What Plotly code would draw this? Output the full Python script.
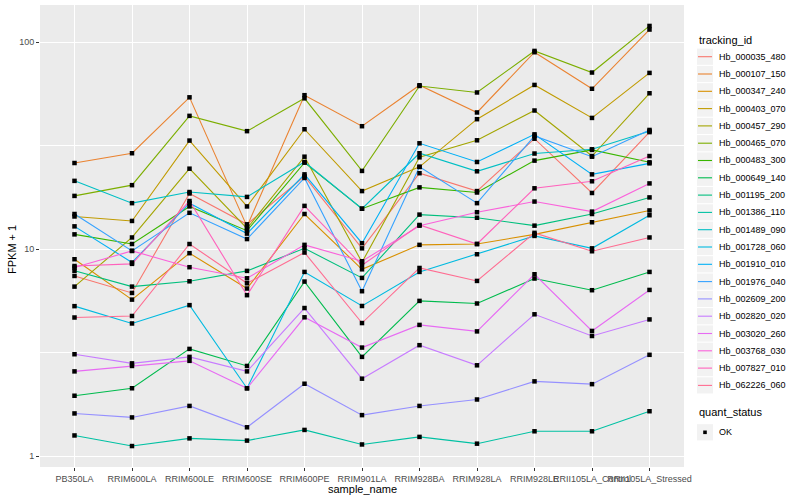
import plotly.graph_objects as go

samples = ["PB350LA", "RRIM600LA", "RRIM600LE", "RRIM600SE", "RRIM600PE", "RRIM901LA",
           "RRIM928BA", "RRIM928LA", "RRIM928LE", "RRII105LA_Control", "RRII105LA_Stressed"]

tracking_ids = ["Hb_000035_480", "Hb_000107_150", "Hb_000347_240", "Hb_000403_070",
                "Hb_000457_290", "Hb_000465_070", "Hb_000483_300", "Hb_000649_140",
                "Hb_001195_200", "Hb_001386_110", "Hb_001489_090", "Hb_001728_060",
                "Hb_001910_010", "Hb_001976_040", "Hb_002609_200", "Hb_002820_020",
                "Hb_003020_260", "Hb_003768_030", "Hb_007827_010", "Hb_062226_060"]

colors = ["#F8766D", "#EA8331", "#D89000", "#C09B00", "#A3A500", "#7CAE00", "#39B600",
          "#00BB4E", "#00BF7D", "#00C1A3", "#00BFC4", "#00BAE0", "#00B0F6", "#35A2FF",
          "#9590FF", "#C77CFF", "#E76BF3", "#FA62DB", "#FF62BC", "#FF6C91"]

# FPKM + 1 values, one list per tracking_id, in sample order
hb_000035_480 = [7.43, 6.15, 18.6, 13.2, 22.5, 10.1, 23.3, 19.1, 34.2, 18.7, 36.8]
hb_000107_150 = [26.1, 29.1, 54.2, 12.9, 55.5, 39.3, 62.0, 45.8, 89.5, 59.6, 115.2]
hb_000347_240 = [8.95, 5.71, 9.57, 6.46, 14.8, 8.0, 10.5, 10.6, 11.8, 13.5, 15.4]
hb_000403_070 = [14.4, 13.7, 33.5, 16.1, 38.0, 19.1, 25.0, 42.5, 62.2, 43.1, 71.1]
hb_000457_290 = [6.6, 11.4, 24.5, 12.6, 28.0, 8.65, 27.8, 33.6, 46.8, 28.2, 56.7]
hb_000465_070 = [18.1, 20.4, 44.1, 37.2, 53.6, 23.9, 61.5, 57.2, 90.8, 71.4, 119.9]
hb_000483_300 = [11.8, 10.6, 16.1, 12.3, 26.2, 15.7, 19.9, 18.8, 26.8, 30.2, 26.3]
hb_000649_140 = [1.96, 2.13, 3.30, 2.73, 6.98, 3.02, 5.63, 5.47, 7.22, 6.34, 7.77]
hb_001195_200 = [7.87, 6.6, 7.0, 7.86, 10.1, 7.27, 14.7, 14.2, 13.0, 14.8, 17.8]
hb_001386_110 = [1.26, 1.12, 1.22, 1.19, 1.34, 1.14, 1.24, 1.15, 1.32, 1.32, 1.65]
hb_001489_090 = [21.4, 16.7, 18.9, 17.9, 26.4, 15.7, 29.1, 23.8, 29.0, 30.4, 37.2]
hb_001728_060 = [5.31, 4.38, 5.37, 2.13, 7.77, 5.32, 7.77, 9.46, 11.6, 10.1, 14.6]
hb_001910_010 = [12.9, 8.63, 16.7, 11.9, 23.0, 10.7, 32.5, 26.4, 35.9, 23.0, 26.0]
hb_001976_040 = [14.8, 9.82, 15.0, 11.2, 22.1, 6.27, 25.0, 16.7, 35.3, 28.0, 37.7]
hb_002609_200 = [1.61, 1.54, 1.75, 1.38, 2.24, 1.58, 1.75, 1.88, 2.30, 2.23, 3.09]
hb_002820_020 = [3.11, 2.81, 3.02, 2.57, 5.20, 2.37, 3.44, 2.75, 4.85, 3.81, 4.58]
hb_003020_260 = [2.57, 2.73, 2.89, 2.13, 4.69, 3.35, 4.31, 4.01, 7.57, 4.03, 6.36]
hb_003768_030 = [8.16, 9.82, 8.19, 7.24, 10.5, 8.75, 13.0, 15.1, 17.0, 15.2, 20.8]
hb_007827_010 = [8.3, 8.5, 17.1, 6.0, 16.2, 8.37, 13.1, 10.6, 19.7, 21.3, 28.2]
hb_062226_060 = [4.68, 4.76, 10.6, 6.85, 9.64, 4.40, 8.12, 7.03, 12.0, 9.78, 11.4]

series = [hb_000035_480, hb_000107_150, hb_000347_240, hb_000403_070, hb_000457_290,
          hb_000465_070, hb_000483_300, hb_000649_140, hb_001195_200, hb_001386_110,
          hb_001489_090, hb_001728_060, hb_001910_010, hb_001976_040, hb_002609_200,
          hb_002820_020, hb_003020_260, hb_003768_030, hb_007827_010, hb_062226_060]

quant_status = "OK"

FONT = "Liberation Sans, Arial, Helvetica, sans-serif"

W, H = 800, 500
ML, MR, MT, MB = 40, 116, 5, 33
PW, PH = W - ML - MR, H - MT - MB


def px(xp):
    return (xp - ML) / PW


def py(yp):
    return (H - MB - yp) / PH


fig = go.Figure()
for name, vals, col in zip(tracking_ids, series, colors):
    fig.add_trace(go.Scatter(x=samples, y=vals, mode="lines", name=name,
                             line=dict(color=col, width=1.1), showlegend=False))

all_x = [s for vals in series for s in samples]
all_y = [v for vals in series for v in vals]
fig.add_trace(go.Scatter(x=all_x, y=all_y, mode="markers", name=quant_status,
                         marker=dict(symbol="square", size=4.5, color="black"),
                         showlegend=False))

# manual ggplot-style legend
shapes = []
annotations = []
LX = 697
annotations.append(dict(text="tracking_id", x=px(LX), y=py(40), xref="paper", yref="paper",
                        xanchor="left", yanchor="middle", showarrow=False,
                        font=dict(size=11, color="black", family=FONT)))
for i, (name, col) in enumerate(zip(tracking_ids, colors)):
    cy = 56.7 + 17.3 * i
    shapes.append(dict(type="rect", xref="paper", yref="paper",
                       x0=px(LX), x1=px(LX + 16), y0=py(cy - 8.1), y1=py(cy + 8.1),
                       fillcolor="#F2F2F2", line=dict(width=0), layer="below"))
    shapes.append(dict(type="line", xref="paper", yref="paper",
                       x0=px(LX + 1), x1=px(LX + 15), y0=py(cy), y1=py(cy),
                       line=dict(color=col, width=1.1)))
    annotations.append(dict(text=name, x=px(716.5), y=py(cy), xref="paper", yref="paper",
                            xanchor="left", yanchor="middle", showarrow=False,
                            font=dict(size=9, color="black", family=FONT)))

annotations.append(dict(text="quant_status", x=px(LX), y=py(412), xref="paper", yref="paper",
                        xanchor="left", yanchor="middle", showarrow=False,
                        font=dict(size=11, color="black", family=FONT)))
cy = 432.3
shapes.append(dict(type="rect", xref="paper", yref="paper",
                   x0=px(LX), x1=px(LX + 16), y0=py(cy - 8.1), y1=py(cy + 8.1),
                   fillcolor="#F2F2F2", line=dict(width=0), layer="below"))
shapes.append(dict(type="rect", xref="paper", yref="paper",
                   x0=px(LX + 6.2), x1=px(LX + 9.8), y0=py(cy - 1.8), y1=py(cy + 1.8),
                   fillcolor="black", line=dict(width=0)))
annotations.append(dict(text=quant_status, x=px(716.5), y=py(cy), xref="paper", yref="paper",
                        xanchor="left", yanchor="middle", showarrow=False,
                        font=dict(size=9, color="black", family=FONT)))

annotations.append(dict(text="sample_name", x=0.5, y=py(489), xref="paper", yref="paper",
                        xanchor="center", yanchor="middle", showarrow=False,
                        font=dict(size=11, color="black", family=FONT)))
annotations.append(dict(text="FPKM + 1", x=px(12), y=py(250), xref="paper", yref="paper",
                        xanchor="center", yanchor="middle", showarrow=False, textangle=-90,
                        font=dict(size=11, color="black", family=FONT)))

fig.update_layout(
    width=W, height=H,
    margin=dict(l=ML, r=MR, t=MT, b=MB),
    paper_bgcolor="white", plot_bgcolor="#EBEBEB",
    font=dict(family=FONT, size=11, color="black"),
    showlegend=False,
    shapes=shapes, annotations=annotations,
)

fig.update_xaxes(type="category", categoryorder="array", categoryarray=samples,
                 range=[-0.6, 10.6], showgrid=True, gridcolor="white", gridwidth=1.1,
                 zeroline=False, showline=False, tickangle=0, automargin=False,
                 ticks="outside", ticklen=3, tickwidth=1.1, tickcolor="#333333",
                 tickfont=dict(size=9, color="#4D4D4D", family=FONT))

fig.update_yaxes(type="log", range=[-0.052, 2.18], automargin=False,
                 tickvals=[1, 10, 100], ticktext=["1", "10", "100"],
                 showgrid=True, gridcolor="white", gridwidth=1.1,
                 minor=dict(tickvals=[3.1623, 31.623], showgrid=True,
                            gridcolor="white", gridwidth=0.55, ticks=""),
                 zeroline=False, showline=False,
                 ticks="outside", ticklen=3, tickwidth=1.1, tickcolor="#333333",
                 tickfont=dict(size=9, color="#4D4D4D", family=FONT))

fig.write_html("out.html", config={"displayModeBar": False},
               post_script="document.body.style.margin='0px';document.body.style.overflow='hidden';")
